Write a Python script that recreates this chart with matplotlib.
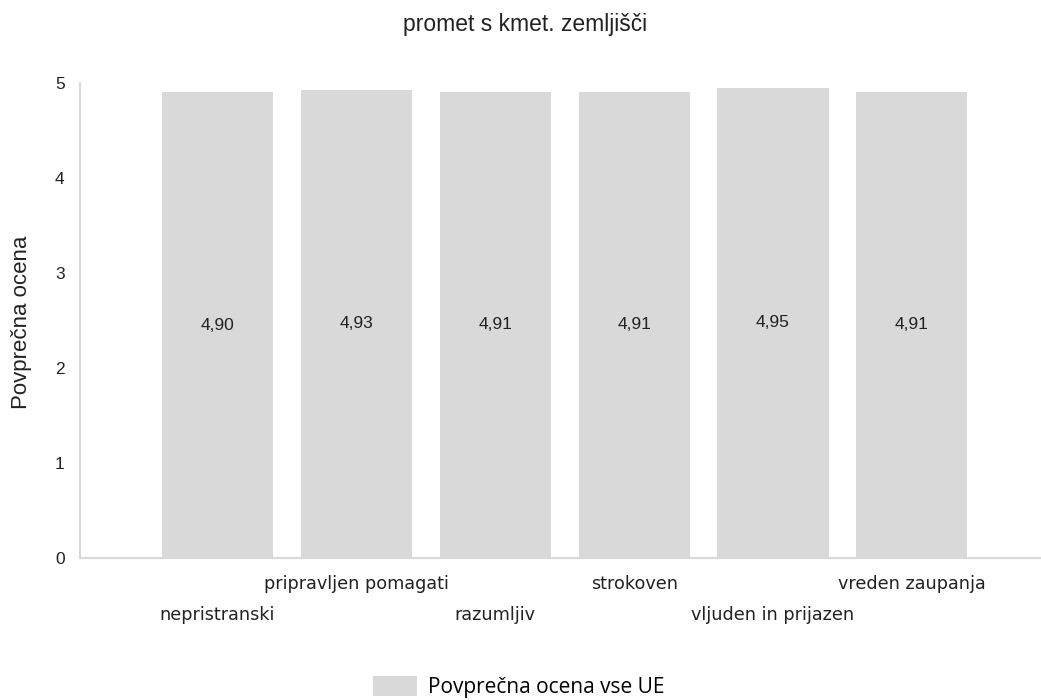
import matplotlib.pyplot as plt
import numpy as np

# data
kategorije = ["nepristranski", "pripravljen pomagati", "razumljiv", "strokoven",
              "vljuden in prijazen", "vreden zaupanja"]
ocene = [4.90, 4.93, 4.91, 4.91, 4.95, 4.91]
oznake = ["4,90", "4,93", "4,91", "4,91", "4,95", "4,91"]

siva = "#d9d9d9"
crna = "#222222"

fig = plt.figure(figsize=(10.41, 7.0), dpi=100)
ax = fig.add_axes([80/1041, 1-558/700, 1-80/1041, (558-83)/700])

x = np.arange(len(kategorije))
bars = ax.bar(x, ocene, width=0.8, color=siva, label="Povprečna ocena vse UE")

# vrednosti na sredini stolpcev
for b, t in zip(bars, oznake):
    ax.text(b.get_x() + b.get_width()/2, b.get_height()/2, t,
            ha="center", va="center", fontsize=12.5, family="Liberation Sans", color=crna)

ax.set_xlim(-0.99, 5.93)
ax.set_ylim(0, 5)
ax.set_yticks([0, 1, 2, 3, 4, 5])
ax.set_yticklabels(["0", "1", "2", "3", "4", "5"], family="Liberation Sans", fontsize=12.5)
ax.tick_params(axis="y", length=0, pad=11, colors=crna)
ax.set_xticks([])

# oznake kategorij v dveh vrstah
for i, k in enumerate(kategorije):
    off = 26 if i % 2 == 1 else 57
    ax.annotate(k, xy=(i, 0), xycoords="data", xytext=(0, -off), textcoords="offset pixels",
                ha="center", va="center", fontsize=12.7, family="DejaVu Sans", color=crna)

for s in ["top", "right"]:
    ax.spines[s].set_visible(False)
ax.spines["left"].set_color(siva)
ax.spines["bottom"].set_color(siva)
ax.spines["left"].set_linewidth(1.5)
ax.spines["bottom"].set_linewidth(1.5)

fig.text(22/1041, 1-322/700, "Povprečna ocena", rotation=90, ha="center", va="center",
         fontsize=16, family="Liberation Sans", color=crna)
fig.text(525/1041, 1-24/700, "promet s kmet. zemljišči", ha="center", va="center",
         fontsize=16.5, family="Liberation Sans", color=crna)

fig.legend(handles=[bars], labels=["Povprečna ocena vse UE"], loc="center",
           bbox_to_anchor=(0.4986, 1-687/700), frameon=False, handlelength=2.1,
           handleheight=1.06, handletextpad=0.53, borderpad=0,
           prop={"family": "Open Sans", "size": 15})

fig.savefig("out.png", dpi=100)
